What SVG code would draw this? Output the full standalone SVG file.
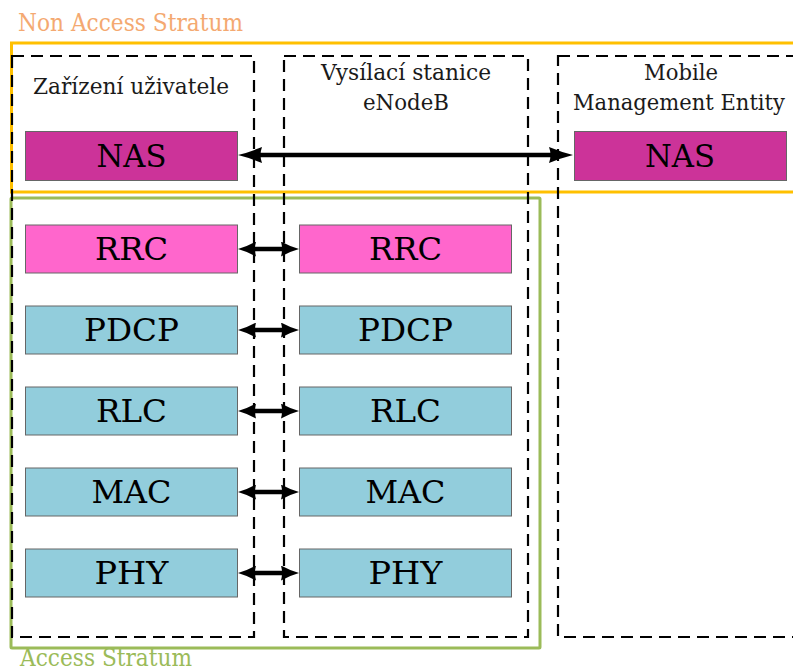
<svg xmlns="http://www.w3.org/2000/svg" width="793" height="672" viewBox="0 0 793 672">
  <style>
    .layer { stroke: #666666; stroke-width: 1; }
    .nas { fill: #CC3399; }
    .rrc { fill: #FF66CC; }
    .low { fill: #92CDDC; }
    text { font-family: 'DejaVu Serif', 'Liberation Serif', serif; }
    .lbl { font-size: 31px; fill: #000000; text-anchor: middle; }
    .title { font-size: 23px; fill: #1a1a1a; }
    .region { font-size: 24px; }
    .entity { fill: none; stroke: #000000; stroke-width: 2.2; stroke-dasharray: 12 7; }
    .link { stroke: #000000; stroke-width: 4.5; fill: none; }
    .big { marker-start: url(#headBig); marker-end: url(#headBig); }
    .small { marker-start: url(#headSmall); marker-end: url(#headSmall); }
  </style>
  <defs>
    <marker id="headBig" viewBox="0 0 24 16" refX="12" refY="8" markerWidth="24" markerHeight="16" markerUnits="userSpaceOnUse" orient="auto-start-reverse">
      <path d="M0,0 Q12,5 24,8 Q12,11 0,16 Q3,8 0,0 Z" fill="#000000"/>
    </marker>
    <marker id="headSmall" viewBox="0 0 18 15" refX="9" refY="7.5" markerWidth="18" markerHeight="15" markerUnits="userSpaceOnUse" orient="auto-start-reverse">
      <path d="M0,0 Q9,5 18,7.5 Q9,10 0,15 Q2,7.5 0,0 Z" fill="#000000"/>
    </marker>
  </defs>

  <rect width="793" height="672" fill="#ffffff"/>

  <!-- stratum frames -->
  <g id="non-access-stratum">
    <rect x="11.5" y="43" width="800" height="149" fill="none" stroke="#FFC000" stroke-width="3"/>
    <text class="region" x="18" y="31" fill="#F4A971" textLength="225" lengthAdjust="spacingAndGlyphs">Non Access Stratum</text>
  </g>
  <g id="access-stratum">
    <rect x="11" y="198" width="529" height="450" rx="1" fill="none" stroke="#9BBB59" stroke-width="3"/>
    <text class="region" x="20" y="666" fill="#9BBB59" textLength="172" lengthAdjust="spacingAndGlyphs">Access Stratum</text>
  </g>

  <!-- network entities -->
  <g id="ue">
    <rect class="entity" x="12" y="56" width="242" height="581"/>
    <text class="title" x="33" y="94" textLength="196" lengthAdjust="spacingAndGlyphs">Zařízení uživatele</text>
  </g>
  <g id="enodeb">
    <rect class="entity" x="284" y="56" width="244" height="581"/>
    <text class="title" x="406" y="80" text-anchor="middle" textLength="170" lengthAdjust="spacingAndGlyphs">Vysílací stanice</text>
    <text class="title" x="406" y="110" text-anchor="middle" textLength="86" lengthAdjust="spacingAndGlyphs">eNodeB</text>
  </g>
  <g id="mme">
    <rect class="entity" x="558" y="56" width="260" height="581"/>
    <text class="title" x="681" y="80" text-anchor="middle" textLength="74" lengthAdjust="spacingAndGlyphs">Mobile</text>
    <text class="title" x="679" y="110" text-anchor="middle" textLength="212" lengthAdjust="spacingAndGlyphs">Management Entity</text>
  </g>

  <!-- protocol layers, user equipment side -->
  <g id="ue-nas">
    <rect class="layer nas" x="25.5" y="131.5" width="212" height="49"/>
    <text class="lbl" x="131.5" y="167" textLength="70" lengthAdjust="spacingAndGlyphs">NAS</text>
  </g>
  <g id="ue-rrc">
    <rect class="layer rrc" x="25.5" y="225" width="212" height="48"/>
    <text class="lbl" x="131.5" y="260" textLength="73" lengthAdjust="spacingAndGlyphs">RRC</text>
  </g>
  <g id="ue-pdcp">
    <rect class="layer low" x="25.5" y="306" width="212" height="48"/>
    <text class="lbl" x="131.5" y="341" textLength="95" lengthAdjust="spacingAndGlyphs">PDCP</text>
  </g>
  <g id="ue-rlc">
    <rect class="layer low" x="25.5" y="387" width="212" height="48"/>
    <text class="lbl" x="131.5" y="422" textLength="71" lengthAdjust="spacingAndGlyphs">RLC</text>
  </g>
  <g id="ue-mac">
    <rect class="layer low" x="25.5" y="468" width="212" height="48"/>
    <text class="lbl" x="131.5" y="503" textLength="80" lengthAdjust="spacingAndGlyphs">MAC</text>
  </g>
  <g id="ue-phy">
    <rect class="layer low" x="25.5" y="549" width="212" height="48"/>
    <text class="lbl" x="131.5" y="584" textLength="74" lengthAdjust="spacingAndGlyphs">PHY</text>
  </g>

  <!-- protocol layers, eNodeB side -->
  <g id="enb-rrc">
    <rect class="layer rrc" x="299.5" y="225" width="212" height="48"/>
    <text class="lbl" x="405.5" y="260" textLength="73" lengthAdjust="spacingAndGlyphs">RRC</text>
  </g>
  <g id="enb-pdcp">
    <rect class="layer low" x="299.5" y="306" width="212" height="48"/>
    <text class="lbl" x="405.5" y="341" textLength="95" lengthAdjust="spacingAndGlyphs">PDCP</text>
  </g>
  <g id="enb-rlc">
    <rect class="layer low" x="299.5" y="387" width="212" height="48"/>
    <text class="lbl" x="405.5" y="422" textLength="71" lengthAdjust="spacingAndGlyphs">RLC</text>
  </g>
  <g id="enb-mac">
    <rect class="layer low" x="299.5" y="468" width="212" height="48"/>
    <text class="lbl" x="405.5" y="503" textLength="80" lengthAdjust="spacingAndGlyphs">MAC</text>
  </g>
  <g id="enb-phy">
    <rect class="layer low" x="299.5" y="549" width="212" height="48"/>
    <text class="lbl" x="405.5" y="584" textLength="74" lengthAdjust="spacingAndGlyphs">PHY</text>
  </g>

  <!-- MME side -->
  <g id="mme-nas">
    <rect class="layer nas" x="574.5" y="131.5" width="212" height="49"/>
    <text class="lbl" x="680" y="167" textLength="70" lengthAdjust="spacingAndGlyphs">NAS</text>
  </g>

  <!-- peer-to-peer links -->
  <g id="connectors">
    <line class="link big" x1="250" y1="155" x2="561" y2="155"/>
    <line class="link small" x1="247" y1="249" x2="290" y2="249"/>
    <line class="link small" x1="247" y1="330" x2="290" y2="330"/>
    <line class="link small" x1="247" y1="411" x2="290" y2="411"/>
    <line class="link small" x1="247" y1="492" x2="290" y2="492"/>
    <line class="link small" x1="247" y1="573" x2="290" y2="573"/>
  </g>
</svg>
